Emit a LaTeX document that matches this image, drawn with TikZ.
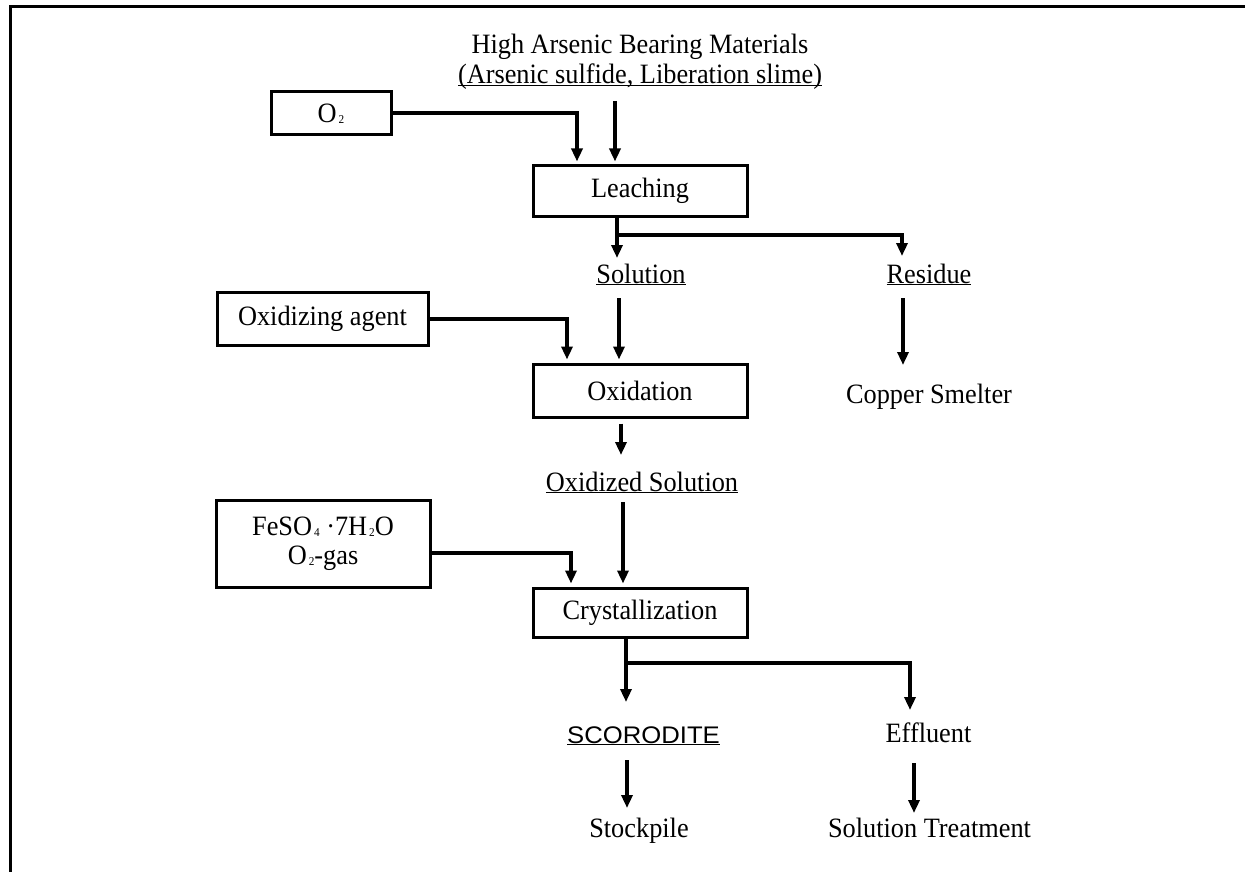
\documentclass[tikz,border=0pt]{standalone}
\usepackage{fontspec}
\setmainfont{Liberation Serif}[FakeStretch=0.94]
\newfontfamily\arialf{Liberation Sans}[FakeStretch=1.07]
\usetikzlibrary{arrows.meta,calc}
\newcommand\sbs[1]{\raisebox{-1pt}{\fontsize{12}{12}\selectfont\,#1}}
\newcommand\ulin[1]{\underline{\smash{#1}}\vphantom{#1}}
\begin{document}
\begin{tikzpicture}[x=1pt,y=-1pt,
  every node/.style={font=\fontsize{28}{30}\selectfont, inner sep=2pt},
  lbl/.style={anchor=base},
  box/.style={draw, line width=3pt, inner sep=0pt},
  conn/.style={line width=4pt},
  arr/.style={conn, -{Triangle[length=13pt,width=11pt]}},
  arrb/.style={arr, shorten >=3pt}]
\useasboundingbox (0,0) rectangle (1245,872);
\draw[line width=3pt] (10,872) -- (10,6.5) -- (1245,6.5);

\node[lbl] (title) at (640,54) {High Arsenic Bearing Materials};
\node[lbl] (title2) at (640,84) {\ulin{(Arsenic sulfide, Liberation slime)}};
\node[box, minimum width=120, minimum height=43] (o2) at (331,113.5) {O\sbs{2}};
\node[box, minimum width=214, minimum height=50] (lea) at (640,191) {Leaching};
\node[lbl] (sol) at (641,283) {\ulin{Solution}};
\node[lbl] (res) at (929,283) {\ulin{Residue}};
\node[lbl] (cu) at (929,403) {Copper Smelter};
\node[box, minimum width=211, minimum height=53] (oxa) at (322.5,318.5) {Oxidizing agent};
\node[box, minimum width=214, minimum height=53] (oxi) at (640,390.5) {Oxidation};
\node[lbl] (oxs) at (642,491) {\ulin{Oxidized Solution}};
\node[box, minimum width=214, minimum height=87, align=center, font=\fontsize{28}{29}\selectfont] (fes) at (323,543.5) {FeSO\sbs{4} ·7H\sbs{2}O\\O\sbs{2}-gas};
\node[box, minimum width=214, minimum height=49] (cry) at (640,612.5) {Crystallization};
\node[lbl, font=\fontsize{24}{29}\arialf] (sco) at (643.5,743) {\ulin{SCORODITE}};
\node[lbl] (eff) at (928.5,742) {Effluent};
\node[lbl] (stk) at (639,837) {Stockpile};
\node[lbl] (sot) at (929.5,837) {Solution Treatment};

\coordinate (ls) at (617,235);
\coordinate (rs) at (902,235);
\coordinate (cs) at (626,663);
\coordinate (cs2) at (910,663);

% top
\draw[arrb] (o2.east) -| (lea.north -| 577,0);
\draw[arrb] (title2.base -| 615,0) ++(0,17) -- (lea.north -| 615,0);
% leaching split
\draw[conn] (lea.south -| ls) -- (ls);
\draw[arr] (ls) -- ($(sol.base -| ls)+(0,-25)$);
\draw[arr] ([xshift=-2pt]ls) -- (rs) -- ($(res.base -| rs)+(0,-27)$);
% second level
\draw[arrb] (sol.base -| 619,0) ++(0,15) -- (oxi.north -| 619,0);
\draw[arr] (res.base -| 903,0) ++(0,15) -- ($(cu.base -| 903,0)+(0,-38)$);
\draw[arrb] (oxa.east) -| (oxi.north -| 567,0);
% oxidation
\draw[arr] (oxi.south -| 621,0) ++(0,5) -- ($(oxs.base -| 621,0)+(0,-36)$);
\draw[arrb] (oxs.base -| 623,0) ++(0,11) -- (cry.north -| 623,0);
\draw[arrb] (fes.east) ++(0,9.5) -| (cry.north -| 571,0);
% crystallization split
\draw[conn] (cry.south -| cs) -- (cs);
\draw[arr] (cs) -- ($(sco.base -| cs)+(0,-41)$);
\draw[arr] ([xshift=-2pt]cs) -- (cs2) -- ($(eff.base -| cs2)+(0,-32)$);
\draw[arr] (sco.base -| 627,0) ++(0,17) -- ($(stk.base -| 627,0)+(0,-29)$);
\draw[arr] (eff.base -| 914,0) ++(0,21) -- ($(sot.base -| 914,0)+(0,-24)$);
\end{tikzpicture}
\end{document}
